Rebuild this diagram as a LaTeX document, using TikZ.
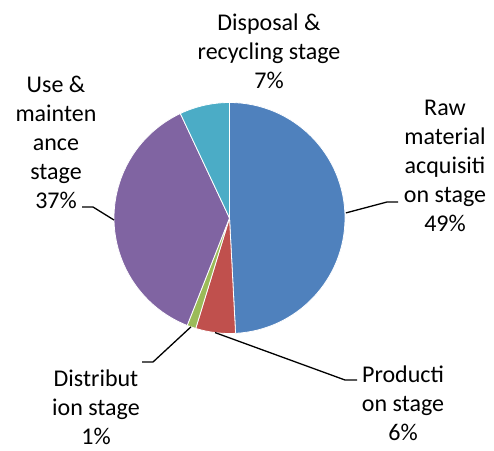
\documentclass[tikz,border=0pt]{standalone}
\usepackage{fontspec}
\setmainfont{Carlito}
\usetikzlibrary{calc}
\definecolor{rawblue}{HTML}{4F81BD}
\definecolor{prodred}{HTML}{C0504D}
\definecolor{distgreen}{HTML}{9BBB59}
\definecolor{usepurple}{HTML}{8064A2}
\definecolor{dispaqua}{HTML}{4BACC6}

\begin{document}
\begin{tikzpicture}[x=1pt,y=1pt,thick,
    lbl/.style={align=center,inner sep=0pt,font=\fontsize{24}{29}\selectfont},
    slice/.style={draw=white,line width=0.8pt},
    leader/.style={draw=black,line width=1.3pt}]
    \useasboundingbox (0,0) rectangle (494,450);
    \coordinate (c) at (229.5,232);
    \fill[rawblue,slice] (c) -- ++(90:115.5) arc (90:-87:115.5) -- cycle;
    \fill[prodred,slice] (c) -- ++(-87:115.5) arc (-87:-107:115.5) -- cycle;
    \fill[distgreen,slice] (c) -- ++(-107:115.5) arc (-107:-111.5:115.5) -- cycle;
    \fill[usepurple,slice] (c) -- ++(-111.5:115.5) arc (-111.5:-244.8:115.5) -- cycle;
    \fill[dispaqua,slice] (c) -- ++(115.2:115.5) arc (115.2:90:115.5) -- cycle;
    \node[lbl] (disp) at (269,399) {Disposal \&\\recycling stage\\7\%};
    \node[lbl] (raw) at (445,284) {Raw\\material\\acquisiti\\on stage\\49\%};
    \node[lbl] (use) at (56,308) {Use \&\\mainten\\ance\\stage\\37\%};
    \node[lbl] (dist) at (96,43) {Distribut\\ion stage\\1\%};
    \node[lbl] (prod) at (403,47) {Producti\\on stage\\6\%};
    % leader lines
    \coordinate (rawedge) at ($(c)+(2.5:116.5)$);
    \coordinate (rawknee) at (387,248);
    \coordinate (rawend) at (398,248);
    \coordinate (useedge) at ($(c)+(181:115.5)$);
    \coordinate (useknee) at (93,243);
    \coordinate (useend) at (82,243);
    \coordinate (distedge) at ($(c)+(-109.5:115.5)$);
    \coordinate (distknee) at (153,88);
    \coordinate (distend) at (142,88);
    \coordinate (prodedge) at ($(c)+(-97.2:115.5)$);
    \coordinate (prodknee) at (345,70);
    \coordinate (prodend) at (357,70);
    \draw[leader] (rawedge) -- (rawknee) -- (rawend);
    \draw[leader] (useedge) -- (useknee) -- (useend);
    \draw[leader] (distedge) -- (distknee) -- (distend);
    \draw[leader] (prodedge) -- (prodknee) -- (prodend);
\end{tikzpicture}
\end{document}
